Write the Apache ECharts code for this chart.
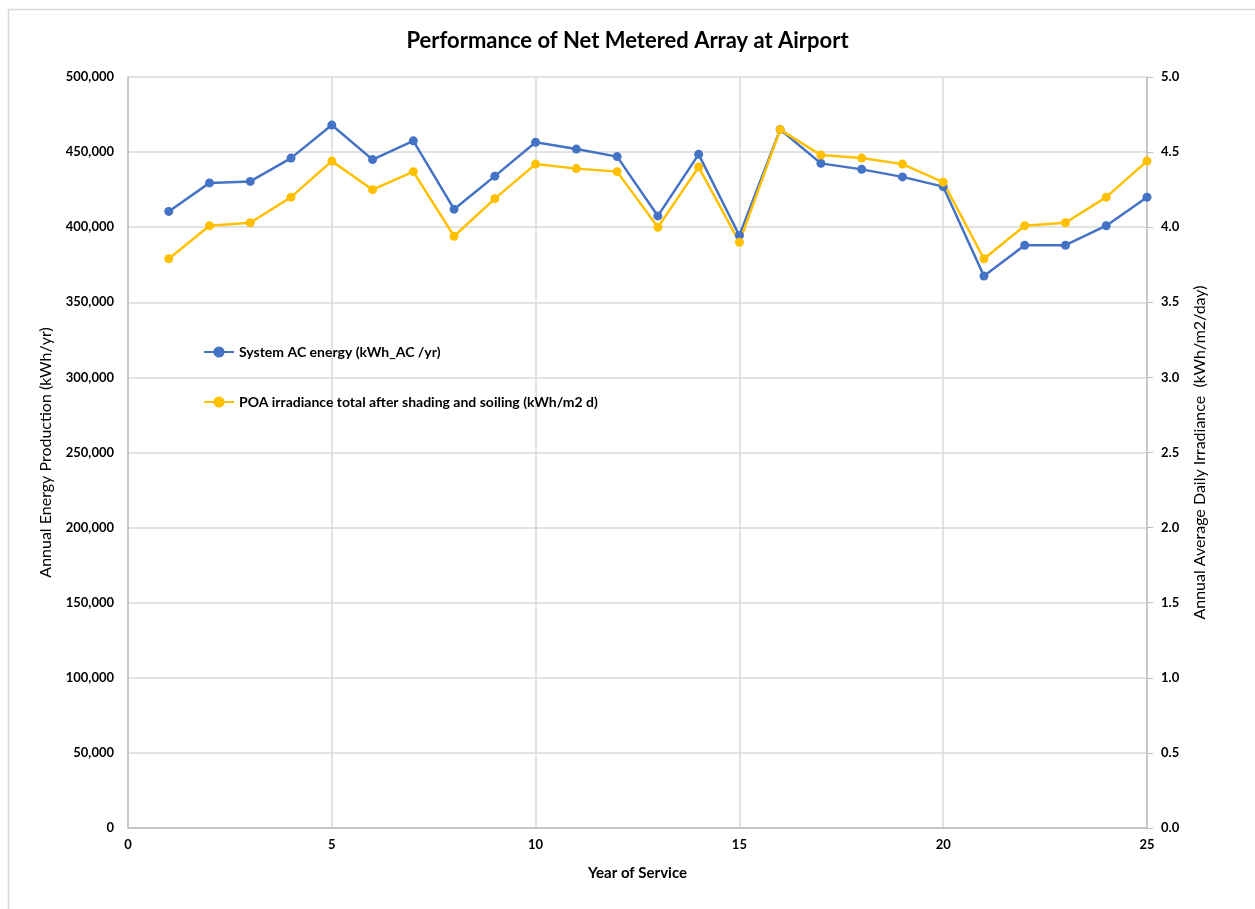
<!DOCTYPE html>
<html>
<head>
<meta charset="utf-8">
<script src="https://cdn.jsdelivr.net/npm/echarts@6/dist/echarts.min.js"></script>
<style>
    html, body { margin: 0; padding: 0; background: #fff; }
    #chart { width: 1255px; height: 909px; }
</style>
</head>
<body>
<div id="chart"></div>
<script>
// data
const years = [1, 2, 3, 4, 5, 6, 7, 8, 9, 10, 11, 12, 13, 14, 15, 16, 17, 18, 19, 20, 21, 22, 23, 24, 25];
const acEnergy = [410500, 429500, 430500, 446000, 468000, 445000, 457500, 412000, 434000, 456500,
    452000, 447000, 407500, 448500, 394500, 465000, 442500, 438500, 433500, 427000,
    367500, 388000, 388000, 401000, 420000];
const poaIrradiance = [3.79, 4.01, 4.03, 4.20, 4.44, 4.25, 4.37, 3.94, 4.19, 4.42,
    4.39, 4.37, 4.00, 4.40, 3.90, 4.65, 4.48, 4.46, 4.42, 4.30,
    3.79, 4.01, 4.03, 4.20, 4.44];
const seriesNames = ['System AC energy (kWh_AC /yr)', 'POA irradiance total after shading and soiling (kWh/m2 d)'];

const font = 'Lato, "Open Sans", sans-serif';
const gridColor = '#d9d9d9';

const chart = echarts.init(document.getElementById('chart'));

const option = {
    backgroundColor: '#fff',
    animation: false,
    textStyle: { fontFamily: font },
    // frame around the chart area
    graphic: [{
        type: 'rect',
        shape: { x: 8.5, y: 9.5, width: 1260, height: 920 },
        style: { fill: 'none', stroke: '#d9d9d9', lineWidth: 1.5 },
        silent: true
    }],
    title: {
        text: 'Performance of Net Metered Array at Airport',
        left: 'center',
        top: 25,
        textStyle: { fontSize: 22, fontWeight: 'bold', color: '#000', fontFamily: font }
    },
    legend: {
        orient: 'vertical',
        left: 198,
        top: 340,
        itemGap: 36,
        itemWidth: 30,
        itemHeight: 14,
        data: seriesNames,
        textStyle: { fontSize: 14, fontWeight: 'bold', color: '#000', fontFamily: font }
    },
    grid: {
        left: 128,
        right: 108,
        top: 77,
        bottom: 81,
        containLabel: false
    },
    xAxis: {
        type: 'value',
        min: 0,
        max: 25,
        interval: 5,
        name: 'Year of Service',
        nameLocation: 'middle',
        nameGap: 38,
        nameTextStyle: { fontSize: 15, fontWeight: 'bold', color: '#000' },
        axisLine: { show: true, lineStyle: { color: '#bfbfbf', width: 1.5 } },
        axisTick: { show: false },
        axisLabel: { margin: 10, fontSize: 13, fontWeight: 'bold', color: '#000' },
        splitLine: { show: true, lineStyle: { color: gridColor, width: 1.5 } }
    },
    yAxis: [
        {
            type: 'value',
            min: 0,
            max: 500000,
            interval: 50000,
            name: 'Annual Energy Production (kWh/yr)',
            nameLocation: 'middle',
            nameGap: 74,
            nameTextStyle: { fontSize: 16, color: '#000' },
            axisLine: { show: true, lineStyle: { color: '#bfbfbf', width: 1.5 } },
            axisTick: { show: false },
            axisLabel: {
                margin: 14,
                fontSize: 13,
                fontWeight: 'bold',
                color: '#000',
                formatter: (v) => v.toLocaleString('en-US')
            },
            splitLine: { show: true, lineStyle: { color: gridColor, width: 1.5 } }
        },
        {
            type: 'value',
            min: 0,
            max: 5,
            interval: 0.5,
            name: 'Annual Average Daily Irradiance  (kWh/m2/day)',
            nameLocation: 'middle',
            nameGap: 45,
            nameRotate: 90,
            nameTextStyle: { fontSize: 16, color: '#000' },
            axisLine: { show: true, lineStyle: { color: '#bfbfbf', width: 1.5 } },
            axisTick: { show: true, length: 6, lineStyle: { color: '#bfbfbf' } },
            axisLabel: {
                margin: 14,
                fontSize: 13,
                fontWeight: 'bold',
                color: '#000',
                formatter: (v) => v.toFixed(1)
            },
            splitLine: { show: false }
        }
    ],
    series: [
        {
            name: seriesNames[0],
            type: 'line',
            yAxisIndex: 0,
            symbol: 'circle',
            symbolSize: 9,
            lineStyle: { width: 2.5, color: '#4472C4' },
            itemStyle: { color: '#4472C4' },
            data: years.map((y, i) => [y, acEnergy[i]])
        },
        {
            name: seriesNames[1],
            type: 'line',
            yAxisIndex: 1,
            symbol: 'circle',
            symbolSize: 9,
            lineStyle: { width: 2.5, color: '#FFC000' },
            itemStyle: { color: '#FFC000' },
            data: years.map((y, i) => [y, poaIrradiance[i]])
        }
    ]
};

chart.setOption(option);
</script>
</body>
</html>
